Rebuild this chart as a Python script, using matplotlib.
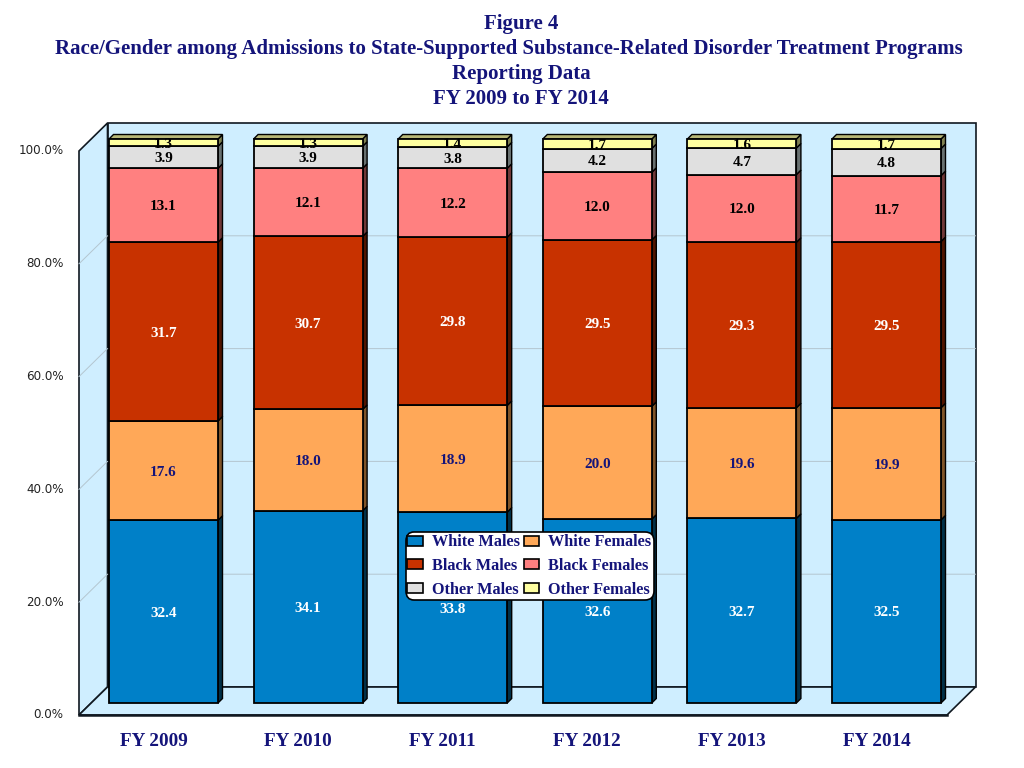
import matplotlib
matplotlib.use("Agg")
import matplotlib.pyplot as plt
from matplotlib.patches import Polygon, Patch

years = ["FY 2009", "FY 2010", "FY 2011", "FY 2012", "FY 2013", "FY 2014"]
series = ["White Males", "White Females", "Black Males", "Black Females", "Other Males", "Other Females"]

white_males = [32.4, 34.1, 33.8, 32.6, 32.7, 32.5]
white_females = [17.6, 18.0, 18.9, 20.0, 19.6, 19.9]
black_males = [31.7, 30.7, 29.8, 29.5, 29.3, 29.5]
black_females = [13.1, 12.1, 12.2, 12.0, 12.0, 11.7]
other_males = [3.9, 3.9, 3.8, 4.2, 4.7, 4.8]
other_females = [1.3, 1.3, 1.4, 1.7, 1.6, 1.7]
ticks = [0, 20, 40, 60, 80, 100]

values = [white_males, white_females, black_males, black_females, other_males, other_females]
colors = ["#0080C8", "#FFA858", "#C83200", "#FF8080", "#E0E0E0", "#FFFFA0"]
side_colors = ["#003048", "#805428", "#501400", "#703838", "#687070", "#808050"]
label_colors = ["white", "#14147A", "white", "black", "black", "black"]

NAVY = "#14147A"
WALL = "#CFEEFF"
EDGE = "#101820"
SERIF = "Liberation Serif"

fig = plt.figure(figsize=(10.24, 7.68), dpi=100)
ax = fig.add_axes([0, 0, 1, 1])

# axes fills the figure, x in category units and y in percent
PX_X = 144.6
PX_Y = 5.64
ax.set_xlim(-163.5 / PX_X, (1024 - 163.5) / PX_X)
ax.set_ylim((703 - 768) / PX_Y, 703 / PX_Y)
ax.axis("off")

# chart box depth, and where the front plane sits under the bars
box_dx = 28.5 / PX_X
box_dy = 28 / PX_Y
left = -84.5 / PX_X
right = 783.5 / PX_X
base = -12 / PX_Y
top = base + 100


def front(y):
    return base + y


# walls and floor
ax.add_patch(Polygon([(left + box_dx, base + box_dy), (right + box_dx, base + box_dy),
                      (right + box_dx, top + box_dy), (left + box_dx, top + box_dy)],
                     fc=WALL, ec=EDGE, lw=1.2, zorder=1))
ax.add_patch(Polygon([(left, base), (left + box_dx, base + box_dy),
                      (left + box_dx, top + box_dy), (left, top)],
                     fc=WALL, ec=EDGE, lw=1.2, zorder=1))
ax.add_patch(Polygon([(left, base), (right, base), (right + box_dx, base + box_dy),
                      (left + box_dx, base + box_dy)],
                     fc=WALL, ec=EDGE, lw=1.2, zorder=2))
ax.plot([left, right], [base, base], color=EDGE, lw=1.8, zorder=2)

# gridlines run across the left wall and the back wall
for t in ticks[1:-1]:
    ax.plot([left, left + box_dx, right + box_dx],
            [front(t), front(t) + box_dy, front(t) + box_dy],
            color="#B4C6D0", lw=0.7, zorder=1.5)
for t in ticks:
    ax.text(-100 / PX_X, front(t), f"{t:.1f}%", ha="right", va="center",
            fontsize=8.6, family="DejaVu Sans", color="#222222")

# stacked bars, with the small 3D side and top faces
bar_w = 109 / PX_X
side_dx = 4.5 / PX_X
side_dy = 4.5 / PX_Y
label_shift = -1.5 / PX_Y
for i in range(len(years)):
    total = sum(v[i] for v in values)
    bottom = 0
    for s, v in enumerate(values):
        h = v[i] / total * 100
        rect = ax.bar(i, h, bar_w, bottom=bottom, color=colors[s], edgecolor="black", lw=1.3, zorder=4)[0]
        x1 = i + bar_w / 2
        ax.add_patch(Polygon([(x1, bottom), (x1 + side_dx, bottom + side_dy),
                              (x1 + side_dx, bottom + h + side_dy), (x1, bottom + h)],
                             fc=side_colors[s], ec="black", lw=1.0, zorder=3))
        txt = ax.text(i, bottom + h / 2 + label_shift, f"{v[i]:.1f}", ha="center", va="center", fontsize=11,
                      family=SERIF, weight="bold", color=label_colors[s], zorder=5)
        txt.set_clip_path(rect)
        bottom += h
    x0 = i - bar_w / 2
    ax.add_patch(Polygon([(x0, 100), (x0 + side_dx, 100 + side_dy),
                          (x1 + side_dx, 100 + side_dy), (x1, 100)],
                         fc="#B8B878", ec="black", lw=1.0, zorder=3))
    ax.text(i - 10 / PX_X, -6.85, years[i], ha="center", va="center", fontsize=13.8,
            family=SERIF, weight="bold", color=NAVY, zorder=5)

# matplotlib fills legend columns first, the reference reads across rows
handles = [Patch(fc=colors[s], ec="black", lw=1.2, label=series[s]) for s in [0, 2, 4, 1, 3, 5]]

leg = ax.legend(handles=handles, ncol=2, loc="center", bbox_to_anchor=(529.5 / 1024, 1 - 566 / 768),
                frameon=True, fancybox=True, framealpha=1, edgecolor="black", facecolor="white",
                prop={"family": SERIF, "weight": "bold", "size": 11.7},
                labelcolor=NAVY, handlelength=0.93, handleheight=0.55, handletextpad=0.6,
                columnspacing=0.2, labelspacing=0.47, borderpad=0.12, borderaxespad=0)
leg.get_frame().set_linewidth(1.2)
leg.get_frame().set_boxstyle("round", pad=0, rounding_size=0.5)
leg.set_zorder(6)

title_lines = ["Figure 4",
               "Race/Gender among Admissions to State-Supported Substance-Related Disorder Treatment Programs",
               "Reporting Data",
               "FY 2009 to FY 2014"]
for line, py in zip(title_lines, [24, 49, 74, 99]):
    fig.text((521 if py != 49 else 508.5) / 1024, 1 - py / 768, line, ha="center", va="center",
             fontsize=15, family=SERIF, weight="bold", color=NAVY)

fig.savefig("out.png", dpi=100)
